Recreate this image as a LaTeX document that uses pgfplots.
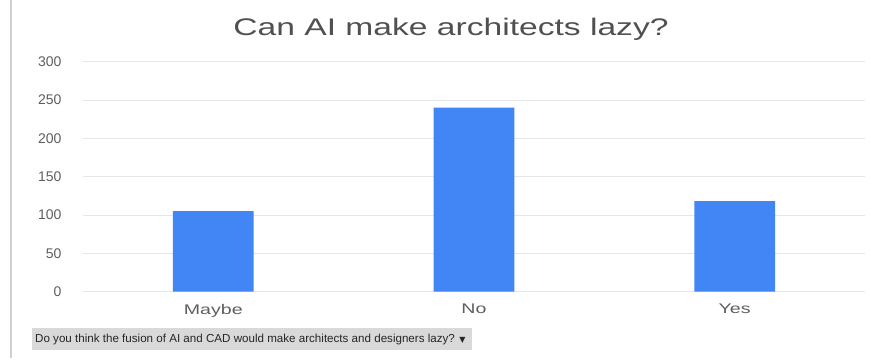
\documentclass[border=0pt]{standalone}
\usepackage{fontspec}
\setmainfont{Liberation Sans}
\newfontfamily\symfont{DejaVu Sans}
\usepackage{graphicx}
\usepackage{pgfplots}
\pgfplotsset{compat=1.18}
\definecolor{barblue}{HTML}{4285F4}
\definecolor{gridc}{HTML}{E6E6E6}
\definecolor{ticktext}{HTML}{5E5E5E}
\definecolor{titletext}{HTML}{505050}
\definecolor{boxgray}{HTML}{D9D9D9}
\definecolor{leftline}{HTML}{D0D0D0}
\newcommand\sx[1]{\scalebox{1.4}[1]{#1}}
\begin{document}
\begin{tikzpicture}
\path[use as bounding box] (-83pt,-68.3pt) rectangle (796pt,291.7pt);
\draw[leftline, line width=1.2pt] (-72pt,291.7pt) -- (-72pt,-66.3pt);
\begin{axis}[
  anchor=south west,
  scale only axis, width=782pt, height=230pt,
  xmin=-0.5, xmax=2.5, ymin=0, ymax=300,
  ytick={0,50,...,300},
  xtick={0,1,2},
  xticklabels={\sx{Maybe},\sx{No},\sx{Yes}},
  axis line style={draw=none},
  major tick length=0pt,
  ymajorgrids, grid style={gridc, line width=1pt},
  /pgf/number format/assume math mode=true,
  yticklabel style={font=\fontsize{14}{15}\selectfont, text=ticktext, xshift=-18pt},
  xticklabel style={font=\fontsize{14}{15}\selectfont, text=ticktext, yshift=-9pt},
  clip=false,
]
\addplot[ybar, bar width=0.31, fill=barblue, draw=none] coordinates {(0,105) (1,240) (2,118)};
\end{axis}
\node[text=titletext, font=\fontsize{24}{28}\selectfont] at (368pt,262.7pt) {\sx{Can AI make architects lazy?}};
\fill[boxgray] (-51pt,-58.3pt) rectangle (389pt,-36.3pt);
\node[anchor=west, text=black!85, font=\fontsize{11.6}{13}\selectfont, inner sep=0pt] at (-48pt,-47.3pt) {Do you think the fusion of AI and CAD would make architects and designers lazy? {\symfont\fontsize{8}{9}\selectfont ▼}};
\end{tikzpicture}
\end{document}
